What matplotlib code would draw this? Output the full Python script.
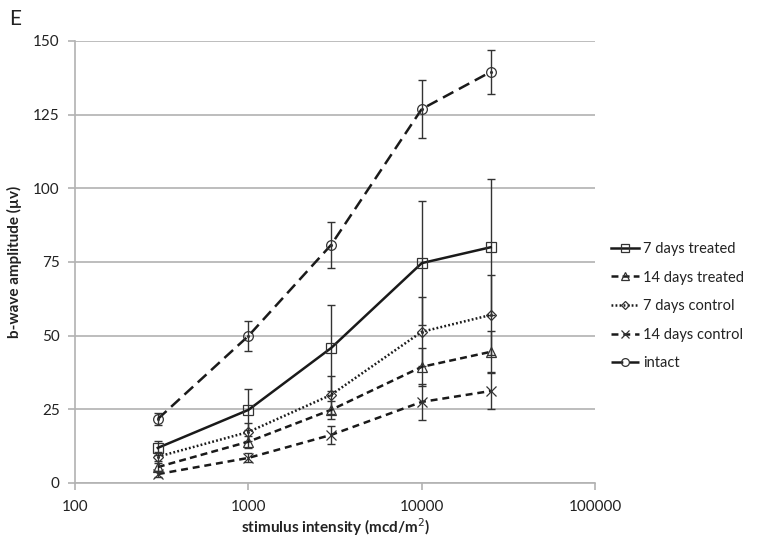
import matplotlib
matplotlib.use("Agg")
import matplotlib.pyplot as plt
from matplotlib.lines import Line2D

plt.rcParams['font.family'] = ['Lato', 'DejaVu Sans']
plt.rcParams['lines.scale_dashes'] = False

x = [300, 1000, 3000, 10000, 25000]
labels = ["7 days treated", "14 days treated", "7 days control", "14 days control", "intact"]
d7t = [11.9, 24.8, 45.8, 74.6, 80.0]
d7t_err = [2.5, 7.0, 14.6, 21.0, 23.0]
d14t = [5.4, 14.0, 24.8, 39.4, 44.5]
d14t_err = [1.5, 2.0, 3.0, 6.5, 7.0]
d7c = [8.9, 17.3, 29.9, 51.3, 57.0]
d7c_err = [1.5, 3.0, 6.4, 11.7, 13.5]
d14c = [3.0, 8.5, 16.3, 27.5, 31.2]
d14c_err = [1.0, 1.5, 3.0, 6.0, 6.0]
intact = [21.7, 49.9, 80.8, 126.9, 139.5]
intact_err = [2.0, 5.0, 7.7, 10.0, 7.6]
yticks = [0, 25, 50, 75, 100, 125, 150]
xticks = [100, 1000, 10000, 100000]
xticklabels = ["100", "1000", "10000", "100000"]

fig = plt.figure(figsize=(7.59, 5.39), dpi=100)
ax = fig.add_axes([0.099, 0.104, 0.685, 0.820])

grid_c = '#b2b2b2'
series = [
    (d7t, d7t_err, '-', 's', 6.5),
    (d14t, d14t_err, (0, (5, 3)), '^', 6.5),
    (d7c, d7c_err, (0, (1.3, 1.6)), 'D', 5),
    (d14c, d14c_err, (0, (5, 3.5)), 'x', 7),
    (intact, intact_err, (0, (8.5, 4.5)), 'o', 7),
]
handles = []
for (vals, err, ls, mk, ms), lab in zip(series, labels):
    ax.errorbar(x, vals, yerr=err, fmt='none', ecolor='#333333', elinewidth=1.0,
                capsize=3, capthick=1.0, zorder=3)
    ax.plot(x, vals, linestyle=ls, color='#1a1a1a', lw=1.8, zorder=4)
    ax.plot(x, vals, linestyle='none', marker=mk, markersize=ms,
            markerfacecolor='none', markeredgecolor='#333333', markeredgewidth=0.9, zorder=5)
    if mk in ('o', 'D'):
        ax.plot(x, vals, linestyle='none', marker='.', markersize=2.5, color='#333333', zorder=6)
    handles.append(Line2D([], [], linestyle=ls, color='#1a1a1a', lw=1.8, marker=mk,
                          markersize=ms * 0.8, markerfacecolor='none',
                          markeredgecolor='#333333', markeredgewidth=0.9))

ax.set_xscale('log')
ax.set_xlim(100, 100000)
ax.set_ylim(0, 150)
ax.set_xticks(xticks)
ax.set_xticklabels(xticklabels)
ax.xaxis.set_minor_locator(matplotlib.ticker.NullLocator())
ax.set_yticks(yticks)
ax.yaxis.grid(True, color=grid_c, lw=1.2)
ax.set_axisbelow(True)
for s in ['top', 'right']:
    ax.spines[s].set_visible(False)
for s in ['left', 'bottom']:
    ax.spines[s].set_color(grid_c)
    ax.spines[s].set_linewidth(1.2)
ax.tick_params(axis='both', colors=grid_c, labelcolor='#222222', labelsize=11, length=5, width=1.2)
ax.tick_params(axis='x', pad=7)
ax.tick_params(axis='y', pad=6)

ax.set_xlabel("stimulus intensity (mcd/m$^2$)", fontsize=11, fontweight='bold', color='#222222', labelpad=2)
ax.set_ylabel("b-wave amplitude (µv)", fontsize=11, fontweight='bold', color='#222222', labelpad=8)

fig.text(0.012, 0.965, "E", fontsize=15, color='#222222', va='center', ha='left')

fig.legend(handles, labels, loc='center left', bbox_to_anchor=(0.805, 0.432),
           frameon=False, fontsize=10.5, handlelength=1.9, handletextpad=0.3,
           labelspacing=1.0, labelcolor='#222222', borderaxespad=0, borderpad=0)

fig.savefig("out.png", dpi=100)
